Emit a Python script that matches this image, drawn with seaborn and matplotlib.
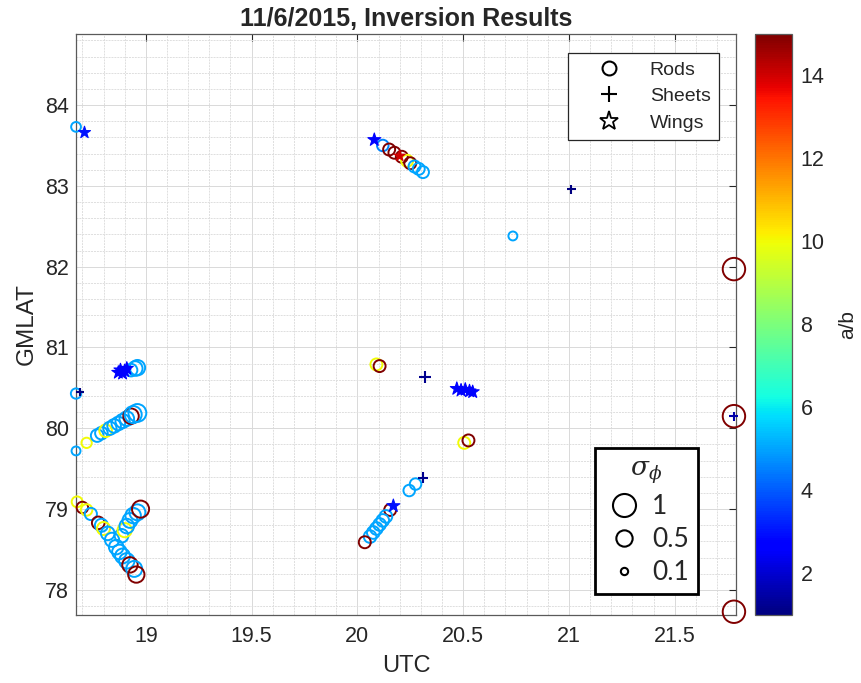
import numpy as np
import pandas as pd
import matplotlib
matplotlib.use("Agg")
import matplotlib.pyplot as plt
from matplotlib.lines import Line2D
from matplotlib.ticker import MultipleLocator, FormatStrFormatter
import seaborn as sns

# ---- Inversion results: rods ----
rod_utc = [18.67, 18.67, 18.67, 18.72,
           18.77, 18.79, 18.81, 18.83, 18.85, 18.87, 18.89, 18.91, 18.93, 18.94, 18.96,
           18.93, 18.95, 18.96,
           18.675, 18.70, 18.72, 18.74, 18.775, 18.79, 18.80, 18.82, 18.84, 18.86, 18.875,
           18.89, 18.91, 18.925, 18.945, 18.955,
           18.885, 18.90, 18.91, 18.925, 18.94, 18.96, 18.975,
           20.12, 20.15, 20.175, 20.21, 20.235, 20.25, 20.27, 20.29, 20.31,
           20.735, 20.09, 20.105, 20.505, 20.525, 20.275, 20.245,
           20.155, 20.135, 20.12, 20.105, 20.09, 20.075, 20.06, 20.035,
           21.78, 21.78, 21.78]
rod_lat = [83.73, 80.43, 79.72, 79.82,
           79.91, 79.94, 79.97, 80.00, 80.03, 80.06, 80.09, 80.12, 80.15, 80.17, 80.19,
           80.72, 80.74, 80.75,
           79.09, 79.02, 78.99, 78.94, 78.83, 78.80, 78.76, 78.70, 78.62, 78.53, 78.47,
           78.42, 78.36, 78.31, 78.26, 78.19,
           78.67, 78.74, 78.79, 78.86, 78.92, 78.96, 79.00,
           83.50, 83.45, 83.41, 83.36, 83.31, 83.28, 83.24, 83.21, 83.17,
           82.38, 80.79, 80.77, 79.82, 79.85, 79.31, 79.23,
           78.99, 78.91, 78.86, 78.81, 78.76, 78.71, 78.66, 78.59,
           81.97, 80.15, 77.73]
rod_ab = [5.0, 5.0, 5.0, 10,
          5.0, 5.0, 10, 5.0, 5.0, 5.0, 5.0, 5.0, 15, 5.0, 5.0,
          5.0, 5.0, 5.0,
          10, 15, 10, 5.0, 15, 5.0, 10, 5.0, 5.0, 5.0, 5.0,
          5.0, 5.0, 15, 5.0, 15,
          5.0, 10, 5.0, 5.0, 5.0, 5.0, 15,
          4.6, 15, 15, 15, 10, 15, 5.0, 5.0, 5.0,
          5.0, 10, 15, 10, 15, 5.0, 5.0,
          15, 5.0, 5.0, 5.0, 5.0, 5.0, 5.0, 15,
          15, 15, 15]
rod_sigma = [0.18, 0.2, 0.15, 0.2,
             0.3, 0.3, 0.3, 0.33, 0.35, 0.35, 0.38, 0.4, 0.45, 0.55, 0.6,
             0.3, 0.4, 0.45,
             0.22, 0.25, 0.25, 0.28, 0.3, 0.32, 0.32, 0.35, 0.38, 0.4, 0.4,
             0.42, 0.45, 0.45, 0.48, 0.5,
             0.35, 0.38, 0.4, 0.42, 0.45, 0.48, 0.55,
             0.25, 0.27, 0.27, 0.27, 0.27, 0.27, 0.27, 0.27, 0.27,
             0.15, 0.27, 0.27, 0.27, 0.27, 0.25, 0.25,
             0.27, 0.3, 0.3, 0.3, 0.3, 0.3, 0.3, 0.27,
             0.95, 0.95, 0.95]

# ---- Sheets ----
sheet_utc = [18.69, 20.32, 20.31, 21.01, 21.78]
sheet_lat = [80.45, 80.63, 79.39, 82.96, 80.15]
sheet_ab = [1.0, 1.2, 1.2, 1.0, 1.5]
sheet_sigma = [0.12, 0.27, 0.2, 0.15, 0.15]

# ---- Wings ----
wing_utc = [18.71, 18.87, 18.88, 18.89, 18.90, 18.91,
            20.08, 20.20,
            20.47, 20.49, 20.51, 20.53, 20.545, 20.17]
wing_lat = [83.66, 80.69, 80.72, 80.68, 80.71, 80.74,
            83.57, 83.37,
            80.49, 80.47, 80.48, 80.46, 80.45, 79.04]
wing_ab = [3.0, 2.8, 2.8, 2.8, 2.8, 2.8,
           2.8, 14,
           2.8, 2.8, 2.8, 2.8, 2.8, 3.0]
wing_sigma = [0.3, 0.35, 0.35, 0.35, 0.35, 0.35,
              0.35, 0.25,
              0.35, 0.35, 0.35, 0.35, 0.35, 0.35]

sigma_levels = [1, 0.5, 0.1]
x_ticks = [19, 19.5, 20, 20.5, 21, 21.5]
y_ticks = [78, 79, 80, 81, 82, 83, 84]
cbar_ticks = [2, 4, 6, 8, 10, 12, 14]
ab_range = (1, 15)
sigma_range = (0.1, 1.0)

sns.set_style("white")
plt.rcParams["font.family"] = ["Liberation Sans", "DejaVu Sans"]
plt.rcParams["mathtext.fontset"] = "dejavuserif"

jet = matplotlib.colormaps["jet"]

fig = plt.figure(figsize=(8.62, 6.83), dpi=100)
ax = fig.add_axes([0.0882, 0.0996, 0.7657, 0.8507])
cax = fig.add_axes([0.876, 0.0996, 0.043, 0.8507])

AREA_PER_SIGMA = 275.0
size_kw = dict(size="sigma", sizes=(AREA_PER_SIGMA * sigma_range[0], AREA_PER_SIGMA * sigma_range[1]),
               size_norm=sigma_range, hue="ab", palette=jet, hue_norm=ab_range,
               legend=False, ax=ax, clip_on=False)

rods = pd.DataFrame(dict(utc=rod_utc, lat=rod_lat, ab=rod_ab, sigma=rod_sigma))
sheets = pd.DataFrame(dict(utc=sheet_utc, lat=sheet_lat, ab=sheet_ab, sigma=sheet_sigma))
wings = pd.DataFrame(dict(utc=wing_utc, lat=wing_lat, ab=wing_ab, sigma=wing_sigma))

# open circles for rods
sns.scatterplot(data=rods, x="utc", y="lat", marker="o", linewidth=1.4, zorder=3, **size_kw)
coll = ax.collections[-1]
fc = coll.get_facecolors()
coll.set_edgecolors(fc)
coll.set_facecolors("none")

# filled stars for wings
sns.scatterplot(data=wings, x="utc", y="lat", marker="*", linewidth=0.8, zorder=4, **size_kw)
coll = ax.collections[-1]
coll.set_edgecolors(coll.get_facecolors())

# crosses for sheets
sns.scatterplot(data=sheets, x="utc", y="lat", marker="+", linewidth=1.5, zorder=5, **size_kw)
coll = ax.collections[-1]
coll.set_edgecolors(coll.get_facecolors())

ax.set_xlim(18.67, 21.79)
ax.set_ylim(77.69, 84.88)
ax.set_xticks(x_ticks)
ax.set_yticks(y_ticks)
ax.xaxis.set_major_formatter(FormatStrFormatter("%g"))
ax.yaxis.set_major_formatter(FormatStrFormatter("%g"))
ax.xaxis.set_minor_locator(MultipleLocator(0.1))
ax.yaxis.set_minor_locator(MultipleLocator(0.2))
ax.grid(which="major", color="#d9d9d9", linewidth=0.7)
ax.grid(which="minor", color="#dedede", linewidth=0.7, linestyle=(0, (2, 1)))
ax.set_axisbelow(True)
ax.tick_params(which="major", direction="in", length=5, width=0.8, top=True, right=True,
               labelsize=15.5, colors="#262626")
ax.tick_params(axis="x", which="major", pad=8)
ax.tick_params(axis="y", which="major", pad=5)
ax.tick_params(which="minor", length=0)
for sp in ax.spines.values():
    sp.set_color("#5a5a5a")
    sp.set_linewidth(0.9)

ax.set_xlabel("UTC", fontsize=17, color="#262626", labelpad=6)
ax.set_ylabel("GMLAT", fontsize=17.5, color="#262626", labelpad=5)
ax.set_title("11/6/2015, Inversion Results", fontsize=18, fontweight="bold", pad=6)

# shape legend
shape_handles = [
    Line2D([], [], marker="o", linestyle="none", markerfacecolor="none", markeredgecolor="k",
           markersize=10, markeredgewidth=1.5, label="Rods"),
    Line2D([], [], marker="+", linestyle="none", color="k", markersize=11,
           markeredgewidth=1.5, label="Sheets"),
    Line2D([], [], marker="*", linestyle="none", markerfacecolor="none", markeredgecolor="k",
           markersize=14, markeredgewidth=1.3, label="Wings"),
]
leg1 = ax.legend(handles=shape_handles, loc="upper right", bbox_to_anchor=(0.974, 0.967),
                 borderaxespad=0, fontsize=14, frameon=True, fancybox=False,
                 edgecolor="#262626", framealpha=1, labelspacing=0.45,
                 handletextpad=0.4, borderpad=0.42, handlelength=3.4)
leg1.get_frame().set_linewidth(0.9)
ax.add_artist(leg1)

# size legend
size_handles = [
    Line2D([], [], marker="o", linestyle="none", markerfacecolor="none", markeredgecolor="k",
           markersize=np.sqrt(AREA_PER_SIGMA * s), markeredgewidth=1.5, label=f"{s:g}")
    for s in sigma_levels
]
leg2 = ax.legend(handles=size_handles, loc="lower right", bbox_to_anchor=(0.942, 0.036),
                 borderaxespad=0, title=r"$\sigma_{\phi}$", title_fontsize=19,
                 prop={"family": "Lato", "size": 19}, frameon=True, fancybox=False,
                 edgecolor="k", framealpha=1, labelspacing=0.3, handletextpad=0.3,
                 borderpad=0.35, handlelength=1.5)
leg2.get_frame().set_linewidth(2.0)

# colorbar
sm = plt.cm.ScalarMappable(norm=plt.Normalize(*ab_range), cmap=jet)
cb = fig.colorbar(sm, cax=cax)
cb.set_ticks(cbar_ticks)
cb.ax.tick_params(direction="in", length=5, width=0.8, labelsize=15.5, colors="#262626", pad=6)
cb.outline.set_edgecolor("#5a5a5a")
cb.outline.set_linewidth(0.9)
cb.set_label("a/b", fontsize=15, color="#262626", labelpad=10)

fig.savefig("out.png", dpi=100, facecolor="white")
